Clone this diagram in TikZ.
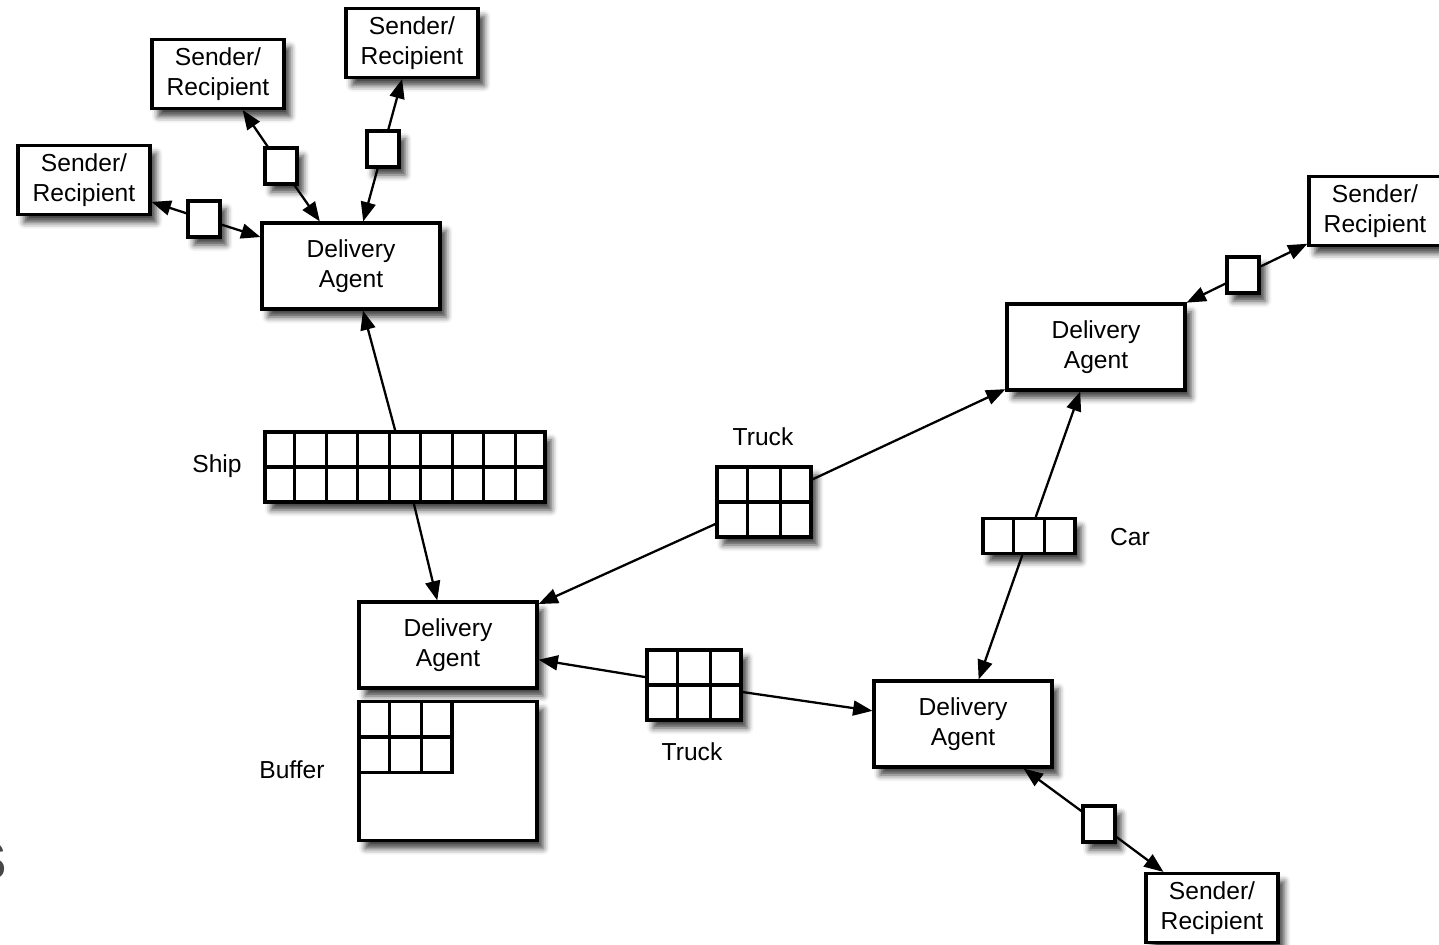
\documentclass[tikz,border=0pt]{standalone}
\usepackage{fontspec}
\setmainfont{Liberation Sans}
\usepackage{tikz}
\usetikzlibrary{calc}
\usetikzlibrary{arrows.meta,shadows.blur}

\tikzset{
  shadowed/.style={draw, line width=1.8pt, fill=white,
    blur shadow={shadow xshift=3.5pt, shadow yshift=-4.5pt, shadow blur radius=3.5pt, shadow opacity=75}},
  agentbox/.style={shadowed, align=center, minimum width=3.56cm, minimum height=1.72cm,
    font=\fontsize{14}{17}\selectfont},
  userbox/.style={shadowed, align=center, minimum width=2.64cm, minimum height=1.38cm,
    font=\fontsize{14}{17}\selectfont},
  msgbox/.style={shadowed, inner sep=0pt, minimum width=0.64cm, minimum height=0.72cm},
  cargobox/.style={shadowed, inner sep=0pt},
  cellline/.style={line width=1.8pt},
  lbl/.style={font=\fontsize{14}{17}\selectfont},
  link/.style={->, line width=1.3pt},
  >={Triangle[length=11pt,width=8.5pt]}
}

\begin{document}
\begin{tikzpicture}

\begin{scope}[x=0.02cm,y=-0.02cm]
  \useasboundingbox (0,0) rectangle (1439,945);

  % senders and recipients
  \node[userbox] (s1) at (84,180) {Sender/\\Recipient};
  \node[userbox] (s2) at (218,74) {Sender/\\Recipient};
  \node[userbox] (s3) at (412,43) {Sender/\\Recipient};
  \node[userbox] (s4) at (1375,211) {Sender/\\Recipient};
  \node[userbox] (s5) at (1212,908) {Sender/\\Recipient};

  % delivery agents
  \node[agentbox] (da1) at (351,266) {Delivery\\Agent};
  \node[agentbox] (da2) at (1096,347) {Delivery\\Agent};
  \node[agentbox] (da3) at (448,645) {Delivery\\Agent};
  \node[agentbox] (da4) at (963,724) {Delivery\\Agent};

  % messages
  \node[msgbox] (m1) at (204,219) {};
  \node[msgbox] (m2) at (281,166) {};
  \node[msgbox] (m3) at (383,149) {};
  \node[msgbox] (m4) at (1243,275) {};
  \node[msgbox] (m5) at (1099,824) {};

  % carriers
  \node[cargobox, minimum width=5.6cm, minimum height=1.4cm] (ship) at (405,467) {};
  \node[cargobox, minimum width=1.88cm, minimum height=1.4cm] (truck1) at (764,502) {};
  \node[cargobox, minimum width=1.88cm, minimum height=1.4cm] (truck2) at (694,685) {};
  \node[cargobox, minimum width=1.84cm, minimum height=0.7cm] (car) at (1029,536) {};
  \node[cargobox, minimum width=3.56cm, minimum height=2.78cm] (buffer) at (448,771) {};
  \node[draw, line width=1.8pt, inner sep=0pt, minimum width=1.86cm, minimum height=1.42cm,
        anchor=north west] (bufcells) at (buffer.north west) {};

  \foreach \i in {1,...,8}
    \draw[cellline] ($(ship.north west)!\i/9!(ship.north east)$) -- ($(ship.south west)!\i/9!(ship.south east)$);
  \draw[cellline] (ship.west) -- (ship.east);
  \foreach \carrier in {truck1,truck2,car,bufcells}
    \foreach \i in {1,2}
      \draw[cellline] ($(\carrier.north west)!\i/3!(\carrier.north east)$) -- ($(\carrier.south west)!\i/3!(\carrier.south east)$);
  \draw[cellline] (truck1.west) -- (truck1.east);
  \draw[cellline] (truck2.west) -- (truck2.east);
  \draw[cellline] (bufcells.west) -- (bufcells.east);

  % labels
  \node[lbl] (shiplbl) at (217,466) {Ship};
  \node[lbl] (truck1lbl) at (763,437) {Truck};
  \node[lbl] (truck2lbl) at (692,752) {Truck};
  \node[lbl] (carlbl) at (1130,537) {Car};
  \node[lbl] (buflbl) at (292,770) {Buffer};
  \node[anchor=base east, inner sep=0pt, text=black!72, font=\fontsize{30}{30}\selectfont\bfseries]
    (cut) at (7,879) {S};

  % connections
  \draw[link] (m1) -- (s1);
  \draw[link] (m1) -- (da1);
  \draw[link] (m2) -- (s2);
  \draw[link] (m2) -- (da1);
  \draw[link] (m3) -- (s3);
  \draw[link] (m3) -- (da1);
  \draw[link] (m4) -- (s4);
  \draw[link] (m4) -- (da2);
  \draw[link] (m5) -- (da4);
  \draw[link] (m5) -- (s5);

  \draw[link] (ship) -- (da1);
  \draw[link] (ship) -- (da3);
  \draw[link] (truck1) -- (da2);
  \draw[link] (truck1) -- (da3);
  \draw[link] (truck2) -- (da3);
  \draw[link] (truck2) -- (da4);
  \draw[link] (car) -- (da2);
  \draw[link] (car) -- (da4);
\end{scope}

\end{tikzpicture}
\end{document}
